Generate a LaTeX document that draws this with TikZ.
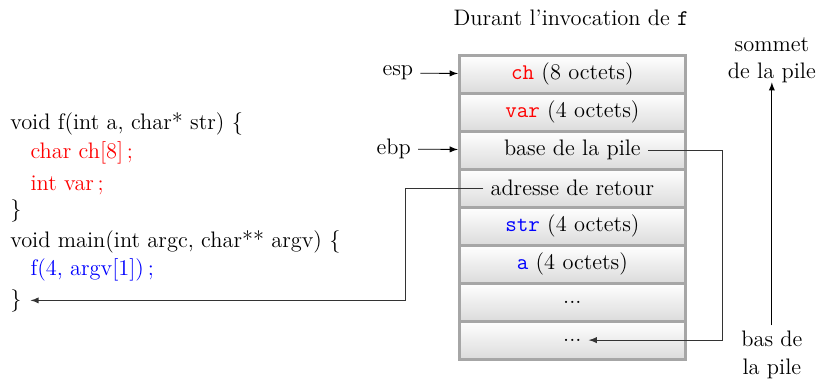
\documentclass[tikz,border=0pt]{standalone}
\usepackage{tikz}

\tikzset{
  every node/.append style={font=\fontsize{11}{13.5}\selectfont},
  case/.style={draw=gray!70, line width=1.4pt, minimum width=3.9cm,
    minimum height=0.655cm, top color=white, bottom color=gray!28},
  code/.style={anchor=west, inner sep=0pt},
  lien/.style={black!80, -latex}
}

\begin{document}
\begin{tikzpicture}
    \useasboundingbox (0,0) rectangle (14.14,6.52);

    % Titre
    \node (titre) at (9.85,6.21) {Durant l'invocation de \texttt{f}};

    % Pile (cases)
    \node[case] (ch) at (9.87,5.24) {\textcolor{red}{\texttt{ch}} (8 octets)};
    \node[case] (var) at (9.87,4.585) {\textcolor{red}{\texttt{var}} (4 octets)};
    \node[case] (r3) at (9.87,3.93) {};
    \node (base) at (r3) {base de la pile};
    \node[case] (r4) at (9.87,3.275) {};
    \node (retour) at (r4) {adresse de retour};
    \node[case] (str) at (9.87,2.62) {\textcolor{blue}{\texttt{str}} (4 octets)};
    \node[case] (a) at (9.87,1.965) {\textcolor{blue}{\texttt{a}} (4 octets)};
    \node[case] (r7) at (9.87,1.31) {...};
    \node[case] (r8) at (9.87,0.655) {};
    \node (fin) at (r8) {...};

    % Registres
    \node (esp) at (6.86,5.26) {esp};
    \node (ebp) at (6.79,3.95) {ebp};
    \draw[-latex] (esp) -- (ch);
    \draw[-latex] (ebp) -- (r3);

    % Sens de la pile
    \node[align=center] (sommet) at (13.31,5.48) {sommet\\de la pile};
    \node[align=center] (bas) at (13.31,0.40) {bas de\\la pile};
    \coordinate (pied) at (13.31,0.91);
    \coordinate (tete) at (13.31,5.10);
    \draw[-latex] (pied) -- (tete);

    % Code C
    \node[code] (l1) at (0.17,4.38) {void f(int a, char* str) \{};
    \node[code, red] (l2) at (0.52,3.88) {char ch[8]\,;};
    \node[code, red] (l3) at (0.52,3.33) {int var\,;};
    \node[code] (l4) at (0.17,2.88) {\}};
    \node[code] (l5) at (0.17,2.34) {void main(int argc, char** argv) \{};
    \node[code, blue] (l6) at (0.52,1.86) {f(4, argv[1])\,;};
    \node[code] (accolade) at (0.17,1.34) {\}};

    % Liens
    \draw[lien] (base.east) -- ++(1.28,0) |- (fin.east);
    \draw[lien] (retour.west) -- ++(-1.35,0) |- ([xshift=0.15cm]accolade.east);

\end{tikzpicture}
\end{document}
